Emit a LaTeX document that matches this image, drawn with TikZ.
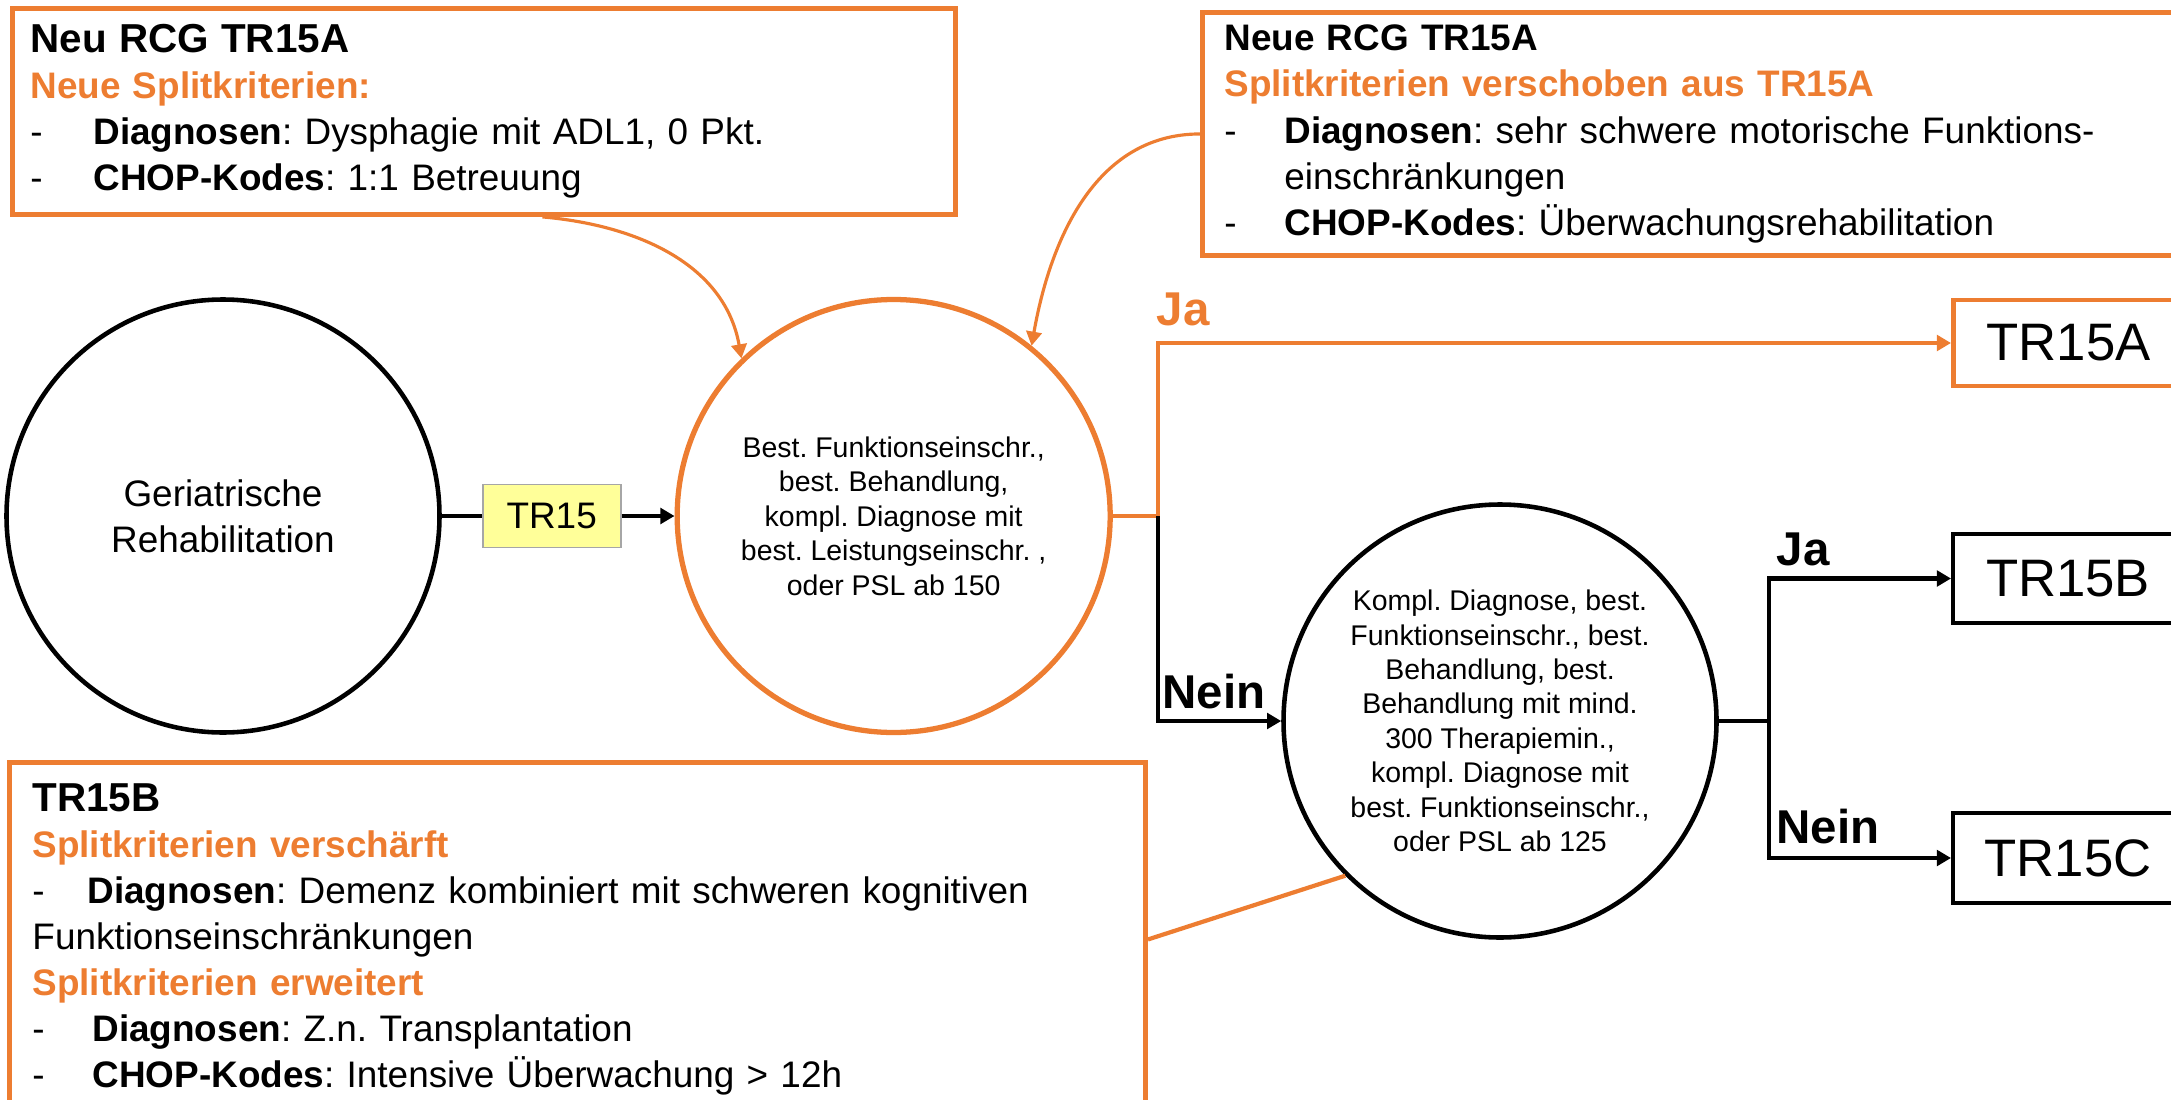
\documentclass[tikz,border=0pt]{standalone}
\usepackage{fontspec}
\setmainfont{Liberation Sans}
\usepackage{tikz}
\usetikzlibrary{shapes, arrows.meta, calc, positioning}

\definecolor{rcgorange}{RGB}{237,125,49}
\definecolor{tryellow}{RGB}{255,255,153}
\definecolor{trgray}{RGB}{166,166,166}

\newcommand{\splititem}{\makebox[0.6cm][l]{-}}

\begin{document}
\frenchspacing
\begin{tikzpicture}[>={Triangle[length=4pt,width=4.4pt]}, node distance=0.4cm]
	\tikzstyle{decision} = [draw, circle, line width=1.3pt, minimum size=4.33cm, inner sep=0pt, align=center, font=\fontsize{8.1}{9.8}\selectfont]
	\tikzstyle{infobox} = [draw=rcgorange, line width=1.4pt, anchor=north west, align=left, inner ysep=0.1cm, font=\fontsize{10.5}{13.1}\selectfont]
	\tikzstyle{result} = [draw, rectangle, line width=1.2pt, anchor=west, minimum width=2.3cm, font=\fontsize{15}{18}\selectfont]
	\tikzstyle{answer} = [anchor=base west, inner sep=0pt, font=\fontsize{13.5}{16}\selectfont\bfseries]
	\tikzstyle{flow} = [line width=1.2pt]
	\tikzstyle{hint} = [rcgorange, line width=0.9pt]

	\useasboundingbox (0,0) rectangle (21.71,-11);

	% Entscheidungsbaum
	\node[decision, font=\fontsize{10.5}{13}\selectfont] (geri) at (2.23,-5.16) {Geriatrische\\Rehabilitation};
	\node[draw=trgray, fill=tryellow, line width=0.5pt, minimum width=1.38cm, minimum height=0.63cm,
		font=\fontsize{10.5}{12.6}\selectfont, right=0.4cm of geri] (tr15) {TR15};
	\node[decision, draw=rcgorange, line width=1.5pt, right=0.53cm of tr15] (split1)
		{Best. Funktionseinschr.,\\best. Behandlung,\\kompl. Diagnose mit\\best. Leistungseinschr. ,\\oder PSL ab 150};
	\node[decision] (split2) at (15.00,-7.21)
		{Kompl. Diagnose, best.\\Funktionseinschr., best.\\Behandlung, best.\\Behandlung mit mind.\\300 Therapiemin.,\\kompl. Diagnose mit\\best. Funktionseinschr.,\\oder PSL ab 125};

	\node[result, draw=rcgorange, line width=1.4pt, minimum height=0.86cm] (tr15a) at (19.51,-3.43) {TR15A};
	\node[result, minimum height=0.89cm] (tr15b) at (19.51,-5.785) {TR15B};
	\node[result, minimum height=0.90cm] (tr15c) at (19.51,-8.58) {TR15C};

	\coordinate[right=0.45cm of split1.east] (forkA);
	\coordinate[right=0.5cm of split2.east] (forkB);

	\draw[flow] (geri) -- (tr15);
	\draw[flow, ->] (tr15) -- (split1);
	\draw[flow, rcgorange] (split1) -- (forkA);
	\draw[flow, rcgorange, ->] (forkA) |- (tr15a);
	\draw[flow, ->] (forkA) |- (split2);
	\draw[flow] (split2) -- (forkB);
	\draw[flow, ->] (forkB) |- (tr15b);
	\draw[flow, ->] (forkB) |- (tr15c);

	\node[answer, text=rcgorange] (jaA) at (11.56,-3.26) {Ja};
	\node[answer] (neinA) at (11.62,-7.08) {Nein};
	\node[answer] (jaB) at (17.76,-5.65) {Ja};
	\node[answer] (neinB) at (17.76,-8.43) {Nein};

	% Kommentarboxen
	\node[infobox, inner xsep=0.18cm, text width=9.07cm, minimum height=2.06cm] (infoA) at (0.10,-0.06)
		{{\fontsize{11.5}{13}\selectfont\bfseries Neu RCG TR15A}\\
		\textcolor{rcgorange}{\bfseries Neue Splitkriterien:}\\
		\makebox[0.63cm][l]{-}\textbf{Diagnosen}: Dysphagie mit ADL1, 0 Pkt.\\
		\makebox[0.63cm][l]{-}\textbf{CHOP-Kodes}: 1:1 Betreuung};
	\node[infobox, inner xsep=0.22cm, text width=10cm, minimum height=2.43cm] (infoB) at (12.00,-0.10)
		{{\bfseries Neue RCG TR15A}\\
		\textcolor{rcgorange}{\bfseries Splitkriterien verschoben aus TR15A}\\
		\splititem\textbf{Diagnosen}: sehr schwere motorische Funktions-\\
		\hspace*{0.6cm}einschränkungen\\
		\splititem\textbf{CHOP-Kodes}: Überwachungsrehabilitation};
	\node[infobox, inner xsep=0.23cm, text width=10.9cm, minimum height=3.54cm] (infoC) at (0.07,-7.60)
		{{\fontsize{11.5}{13}\selectfont\bfseries TR15B}\\
		\textcolor{rcgorange}{\bfseries Splitkriterien verschärft}\\
		\makebox[0.55cm][l]{-}\textbf{Diagnosen}: Demenz kombiniert mit schweren kognitiven\\
		Funktionseinschränkungen\\
		\textcolor{rcgorange}{\bfseries Splitkriterien erweitert}\\
		\splititem\textbf{Diagnosen}: Z.n. Transplantation\\
		\splititem\textbf{CHOP-Kodes}: Intensive Überwachung > 12h};

	\draw[hint, ->] (infoA.-61) to[out=-5, in=100] (split1.134);
	\draw[hint, ->] (infoB.west) to[out=180, in=80] (split1.51);
	\draw[flow, rcgorange] (infoC.east) -- (split2.225);
\end{tikzpicture}
\end{document}
